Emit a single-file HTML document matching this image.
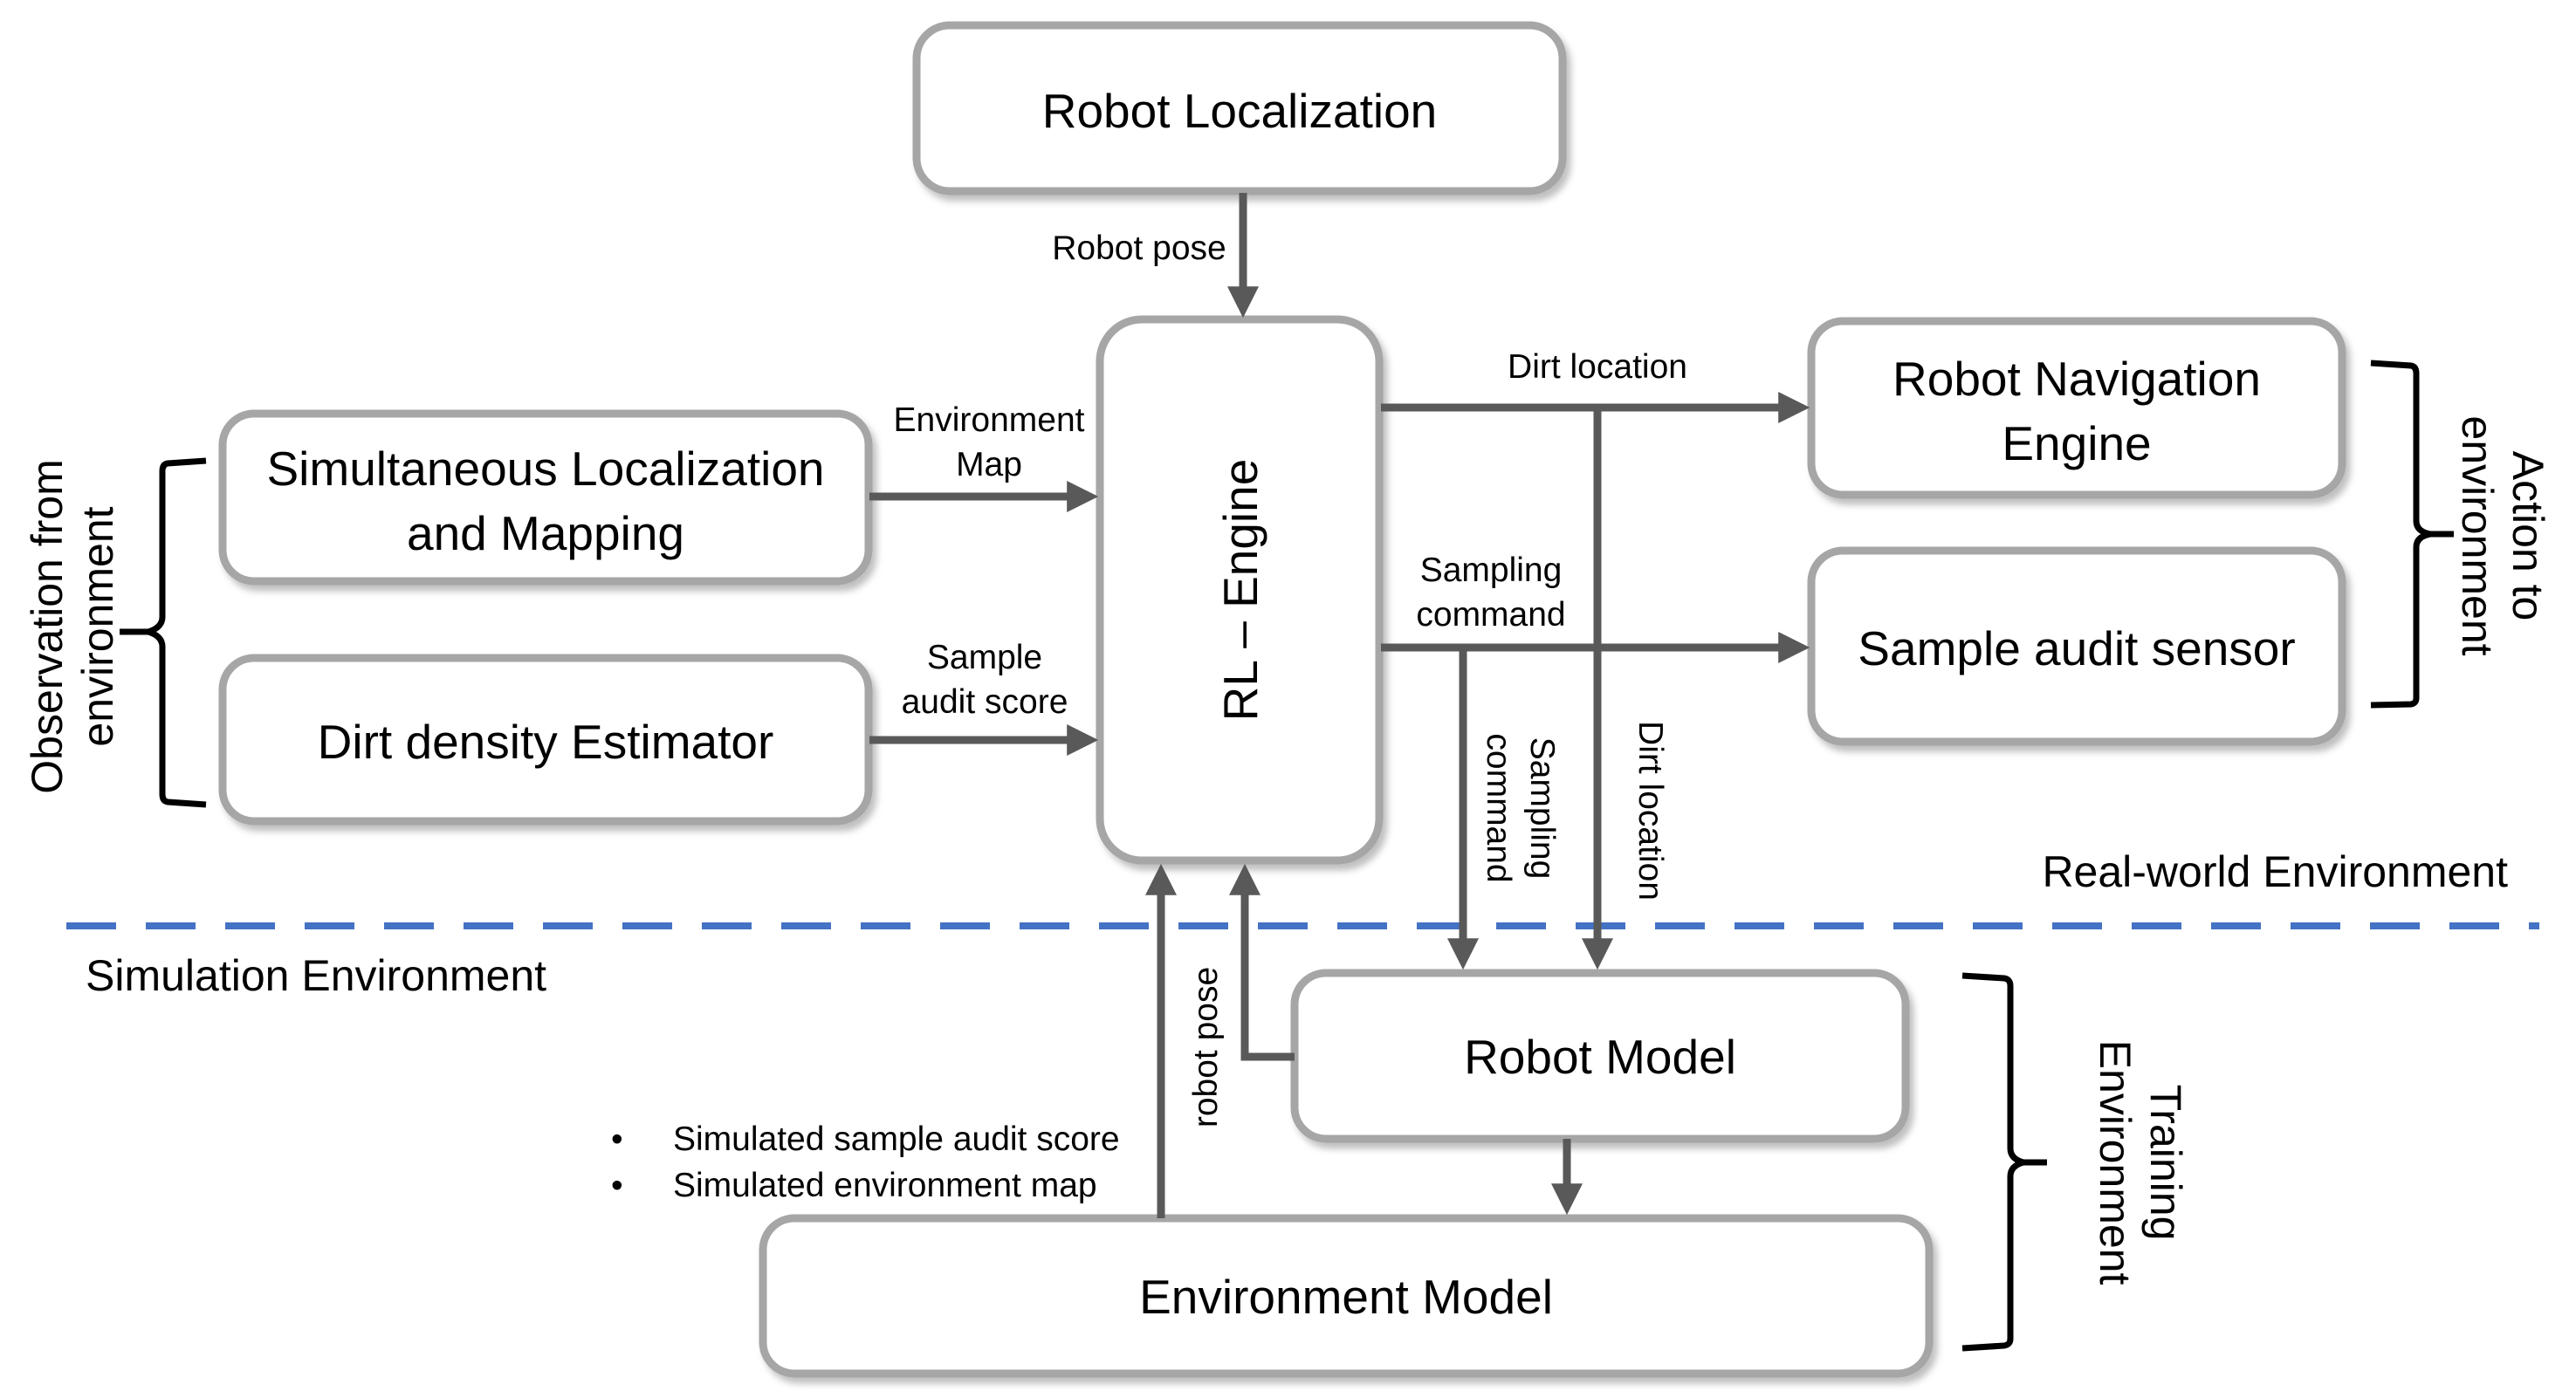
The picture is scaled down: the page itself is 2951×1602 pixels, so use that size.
<!DOCTYPE html>
<html><head><meta charset="utf-8"><style>
html,body{margin:0;padding:0;background:#fff;}
svg{display:block;font-family:"Liberation Sans",sans-serif;}
</style></head><body>
<svg width="2951" height="1602" viewBox="0 0 2951 1602" xmlns="http://www.w3.org/2000/svg">
<defs>
<marker id="ah" markerWidth="4" markerHeight="4" refX="2.2" refY="2" orient="auto" markerUnits="strokeWidth"><path d="M0,0 L4,2 L0,4 z" fill="#595959"/></marker>
<filter id="sh" x="-5%" y="-5%" width="115%" height="120%"><feDropShadow dx="5" dy="7" stdDeviation="4" flood-color="#000" flood-opacity="0.25"/></filter>
</defs>
<g fill="#fff" stroke="#a6a6a6" stroke-width="9" filter="url(#sh)">
<rect x="1050" y="29" width="740" height="190" rx="38"/>
<rect x="1260" y="366" width="320" height="620" rx="48"/>
<rect x="255" y="474" width="740" height="192" rx="36"/>
<rect x="255" y="754" width="740" height="187" rx="36"/>
<rect x="2075" y="368" width="608" height="199" rx="36"/>
<rect x="2075" y="631" width="608" height="219" rx="36"/>
<rect x="1483" y="1115" width="700" height="190" rx="36"/>
<rect x="874" y="1396" width="1336" height="178" rx="36"/>
</g>
<g fill="#000" font-size="55" text-anchor="middle">
<text x="1420" y="146">Robot Localization</text>
<text x="625" y="556">Simultaneous Localization</text>
<text x="625" y="630">and Mapping</text>
<text x="625" y="869">Dirt density Estimator</text>
<text x="2379" y="453">Robot Navigation</text>
<text x="2379" y="527">Engine</text>
<text x="2379" y="762">Sample audit sensor</text>
<text x="1833" y="1230">Robot Model</text>
<text x="1542" y="1505">Environment Model</text>
<text transform="translate(1440,676) rotate(-90)">RL – Engine</text>
</g>
<line x1="76" y1="1061" x2="2909" y2="1061" stroke="#4472c4" stroke-width="8" stroke-dasharray="57,34"/>
<g stroke="#595959" stroke-width="9" fill="none" marker-end="url(#ah)">
<line x1="1424" y1="221" x2="1424" y2="348"/>
<line x1="996" y1="569" x2="1242" y2="569"/>
<line x1="996" y1="848" x2="1242" y2="848"/>
<line x1="1582" y1="467" x2="2057" y2="467"/>
<line x1="1582" y1="742" x2="2057" y2="742"/>
<polyline points="1830,467 1830,1095"/>
<polyline points="1676,742 1676,1095"/>
<line x1="1795" y1="1305" x2="1795" y2="1376"/>
<line x1="1330" y1="1396" x2="1330" y2="1006"/>
<polyline points="1483,1211 1426,1211 1426,1006"/>
</g>
<g fill="#000" font-size="39" text-anchor="middle">
<text x="1305" y="297">Robot pose</text>
<text x="1133" y="494">Environment</text>
<text x="1133" y="545">Map</text>
<text x="1128" y="766">Sample</text>
<text x="1128" y="817">audit score</text>
<text x="1830" y="433">Dirt location</text>
<text x="1708" y="666">Sampling</text>
<text x="1708" y="717">command</text>
<g transform="translate(1742,926) rotate(90)"><text x="0" y="-12">Sampling</text><text x="0" y="38">command</text></g>
<text transform="translate(1878,929) rotate(90)">Dirt location</text>
<text transform="translate(1394,1200) rotate(-90)">robot pose</text>
</g>
<g fill="#000" font-size="50">
<text x="2873" y="1016" text-anchor="end">Real-world Environment</text>
<text x="98" y="1135">Simulation Environment</text>
</g>
<g fill="#000" font-size="39">
<text x="700" y="1318">•</text><text x="771" y="1318">Simulated sample audit score</text>
<text x="700" y="1371">•</text><text x="771" y="1371">Simulated environment map</text>
</g>
<g fill="#000" font-size="50" text-anchor="middle">
<g transform="translate(79,718) rotate(-90)"><text x="0" y="-8">Observation from</text><text x="0" y="50">environment</text></g>
<g transform="translate(2871,614) rotate(90)"><text x="0" y="-8">Action to</text><text x="0" y="50">environment</text></g>
<g transform="translate(2456,1332) rotate(90)"><text x="0" y="-8">Training</text><text x="0" y="50">Environment</text></g>
</g>
<g stroke="#000" stroke-width="7" fill="none">
<path d="M236,528 L192,531 Q186,532 186,540 L186,707 Q186,719 170,724 L137,724 M170,724 Q186,729 186,741 L186,910 Q186,918 192,919 L236,922"/>
<path d="M2716,416 L2762,419 Q2768,420 2768,428 L2768,597 Q2768,609 2784,612 L2811,612 M2784,612 Q2768,615 2768,627 L2768,800 Q2768,806 2762,807 L2716,808"/>
<path d="M2248,1118 L2296,1121 Q2303,1122 2303,1130 L2303,1316 Q2303,1328 2318,1332 L2345,1332 M2318,1332 Q2303,1336 2303,1348 L2303,1534 Q2303,1541 2296,1542 L2248,1545"/>
</g>
</svg>
</body></html>
